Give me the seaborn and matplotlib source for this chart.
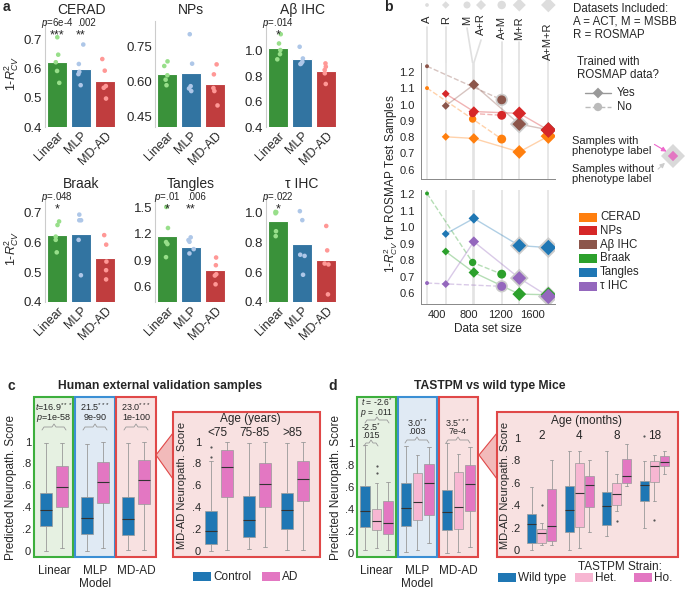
import numpy as np
import pandas as pd
import seaborn as sns
import matplotlib.pyplot as plt
from matplotlib.patches import Rectangle, Polygon

W, H = 685, 589

MODELS = ['Linear', 'MLP', 'MD-AD']
MODEL_COLORS = ['#2ca02c', '#1f77b4', '#d62728']
POINT_COLORS = ['#98df8a', '#aec7e8', '#ff9896']

# panel a: bar = mean over folds, points = single folds
CERAD_BARS = [0.624, 0.601, 0.560]
CERAD_PTS = [[0.709, 0.649, 0.623, 0.593, 0.552], [0.684, 0.617, 0.590, 0.582, 0.544], [0.634, 0.594, 0.541, 0.535, 0.498]]
NPS_BARS = [0.630, 0.636, 0.587]
NPS_PTS = [[0.686, 0.666, 0.626, 0.607, 0.583], [0.803, 0.676, 0.579, 0.569, 0.558], [0.673, 0.630, 0.571, 0.558, 0.496]]
ABETA_BARS = [1.019, 0.933, 0.841]
ABETA_PTS = [[1.131, 1.058, 1.006, 0.974, 0.933], [1.032, 0.940, 0.914, 0.901, 0.896], [0.901, 0.875, 0.849, 0.823, 0.739]]
BRAAK_BARS = [0.624, 0.630, 0.548]
BRAAK_PTS = [[0.671, 0.659, 0.620, 0.609, 0.567], [0.694, 0.675, 0.675, 0.609, 0.490], [0.625, 0.593, 0.536, 0.507, 0.476]]
TANGLES_BARS = [1.176, 1.055, 0.797]
TANGLES_PTS = [[1.505, 1.267, 1.108, 1.085, 0.937], [1.161, 1.130, 1.111, 1.028, 0.979], [0.933, 0.846, 0.744, 0.729, 0.630]]
TAU_BARS = [0.941, 0.789, 0.679]
TAU_PTS = [[1.002, 0.993, 1.000, 0.873, 0.840], [1.007, 0.947, 0.716, 0.708, 0.582], [0.908, 0.745, 0.657, 0.651, 0.451]]

# panel b
DATASETS = ['A', 'R', 'M', 'A+R', 'A+M', 'M+R', 'A+M+R']
DATASET_SIZES = [274, 510, 850, 865, 1217, 1439, 1806]
WITH_ROSMAP = [False, True, False, True, False, True, True]
B_PHENOS = ['CERAD', 'NPs', 'Aβ IHC', 'Braak', 'Tangles', 'τ IHC']
B_COLORS = ['#ff7f0e', '#d62728', '#8c564b', '#2ca02c', '#1f77b4', '#9467bd']
nan = np.nan
CERAD_B = [1.101, 0.802, 0.911, 0.792, 0.788, 0.709, 0.806]
NPS_B = [nan, 1.066, 0.945, 0.957, 0.934, 0.946, 0.843]
ABETA_B = [1.235, 0.992, nan, 1.122, 1.029, 0.880, 0.845]
BRAAK_B = [1.204, 0.852, 0.786, 0.725, 0.715, 0.594, 0.590]
TANGLES_B = [nan, 0.959, nan, 1.053, nan, 0.888, 0.876]
TAU_B = [0.661, 0.655, nan, 0.912, 0.641, 0.691, 0.580]
HALO_CERAD = []
HALO_NPS = []
HALO_ABETA = ['A+M', 'M+R']
HALO_BRAAK = []
HALO_TANGLES = ['M+R', 'A+M+R']
HALO_TAU = ['A+M', 'M+R', 'A+M+R']

# panel c: [whislo, q1, median, q3, whishi]
C_CONTROL = [[0.0, 0.226, 0.373, 0.526, 0.985], [0.0, 0.150, 0.297, 0.495, 0.979], [0.006, 0.144, 0.291, 0.495, 0.985]]
C_AD = [[0.02, 0.404, 0.587, 0.780, 0.99], [0.02, 0.44, 0.633, 0.81, 1.0], [0.006, 0.428, 0.648, 0.832, 1.0]]
C_STATS = [('$t$=16.9$^{***}$', '$p$=1e-58'), ('21.5$^{***}$', '9e-90'), ('23.0$^{***}$', '1e-100')]
C_AGES = ['<75', '75-85', '>85']
C_AGE_CONTROL = [[0.0, 0.061, 0.18, 0.367, 0.823], [0.012, 0.122, 0.281, 0.502, 0.99], [0.006, 0.202, 0.373, 0.532, 0.99]]
C_AGE_AD = [[0.006, 0.495, 0.771, 0.924, 1.0], [0.037, 0.404, 0.609, 0.801, 1.0], [0.006, 0.459, 0.654, 0.823, 1.0]]
C_AGE_CONTROL_OUT = [[0.86, 0.95], [], []]

# panel d
D_WT = [[0.024, 0.236, 0.382, 0.606, 0.979], [0.009, 0.245, 0.403, 0.636, 0.973], [0.0, 0.206, 0.367, 0.570, 0.994]]
D_HET = [[0.039, 0.206, 0.288, 0.394, 0.63], [0.024, 0.297, 0.464, 0.727, 0.885], [0.009, 0.212, 0.418, 0.736, 0.897]]
D_HO = [[0.024, 0.167, 0.273, 0.473, 0.645], [0.085, 0.342, 0.630, 0.803, 0.964], [0.048, 0.382, 0.621, 0.794, 0.964]]
D_HET_OUT = [[0.72, 0.79], [], []]
D_AGES = ['2', '4', '8', '18']
D_AGE_WT = [[0.0, 0.066, 0.233, 0.319, 0.558], [0.0, 0.164, 0.358, 0.567, 0.881], [0.125, 0.224, 0.397, 0.522, 0.881], [0.2, 0.433, 0.576, 0.612, 0.791]]
D_AGE_HET = [[0.045, 0.066, 0.149, 0.191, 0.245], [0.015, 0.209, 0.507, 0.776, 0.881], [0.352, 0.403, 0.501, 0.597, 0.681], [0.433, 0.603, 0.746, 0.797, 0.851]]
D_AGE_HO = [[0.045, 0.084, 0.215, 0.546, 0.806], [0.164, 0.382, 0.582, 0.657, 0.806], [0.567, 0.597, 0.663, 0.812, 0.95], [0.681, 0.746, 0.788, 0.836, 0.881]]
D_AGE_WT_OUT = [[], [], [], [1.02]]
D_AGE_HET_OUT = [[0.40], [], [0.263], [0.269]]

BLUE, PINK, LIGHT_PINK = '#1f77b4', '#e377c2', '#f7b6d2'

sns.set_style('white')
plt.rcParams['font.family'] = ['Liberation Sans', 'DejaVu Sans']
plt.rcParams['mathtext.fontset'] = 'custom'
plt.rcParams['mathtext.rm'] = 'Liberation Sans'
plt.rcParams['mathtext.it'] = 'Liberation Sans:italic'

fig = plt.figure(figsize=(W / 100, H / 100), dpi=100)

# full-figure overlay in pixel coordinates (drawn first, behind the data axes)
ov = fig.add_axes([0, 0, 1, 1])
ov.set_xlim(0, W)
ov.set_ylim(H, 0)
ov.axis('off')


def px_axes(x0, y0, x1, y1):
    ax = fig.add_axes([x0 / W, 1 - y1 / H, (x1 - x0) / W, (y1 - y0) / H])
    ax.patch.set_alpha(0)
    return ax


def brace(x0, x1, y, h=3):
    m = (x0 + x1) / 2
    ov.plot([x0, x0 + 2, m - 2, m, m + 2, x1 - 2, x1], [y + h, y, y, y - h, y, y, y + h],
            color='#999999', lw=0.6)


for lab, x, y in [('a', 3, 7), ('b', 384, 7), ('c', 8, 386), ('d', 328, 386)]:
    ov.text(x, y, lab, fontsize=10, fontweight='bold', va='center')

################################################################################
# a: cross-validated performance
################################################################################

a_specs = [
    ('CERAD', CERAD_BARS, CERAD_PTS, (0.4, 0.765), [0.4, 0.5, 0.6, 0.7], None, (45, 21, 117, 127),
     [('$p$=6e-4', '***'), ('.002', '**'), None]),
    ('NPs', NPS_BARS, NPS_PTS, (0.403, 0.86), [0.45, 0.60, 0.75], ['0.45', '0.60', '0.75'], (155, 21, 227, 127),
     [None, None, None]),
    ('Aβ IHC', ABETA_BARS, ABETA_PTS, (0.4, 1.235), [0.4, 0.6, 0.8, 1.0], None, (266, 21, 338, 127),
     [('$p$=.014', '*'), None, None]),
    ('Braak', BRAAK_BARS, BRAAK_PTS, (0.4, 0.76), [0.4, 0.5, 0.6, 0.7], None, (45, 195, 117, 302),
     [('$p$=.048', '*'), None, None]),
    ('Tangles', TANGLES_BARS, TANGLES_PTS, (0.43, 1.64), [0.6, 0.9, 1.2, 1.5], None, (155, 195, 227, 302),
     [('$p$=.01', '*'), ('.006', '**'), None]),
    ('τ IHC', TAU_BARS, TAU_PTS, (0.4, 1.115), [0.4, 0.6, 0.8, 1.0], None, (266, 195, 338, 302),
     [('$p$=.022', '*'), None, None]),
]

np.random.seed(3)
for k, (title, bars, pts, ylim, ticks, tlabels, box, pvals) in enumerate(a_specs):
    ax = px_axes(*box)
    sns.barplot(x=MODELS, y=bars, hue=MODELS, palette=MODEL_COLORS, width=0.86, legend=False,
                edgecolor='white', linewidth=0.8, errorbar=None, ax=ax)
    df = pd.DataFrame({'model': np.repeat(MODELS, 5), 'score': np.ravel(pts)})
    sns.stripplot(data=df, x='model', y='score', hue='model', palette=POINT_COLORS, jitter=0.12,
                  size=3.3, legend=False, ax=ax, zorder=3)
    ax.set_xlim(-0.5, 2.5)
    ax.set_ylim(*ylim)
    ax.set_yticks(ticks)
    if tlabels:
        ax.set_yticklabels(tlabels)
    ax.set_title(title, fontsize=10, pad=5)
    ax.set_xlabel('')
    if k % 3 == 0:
        ax.set_ylabel('1-$R^2_{CV}$', fontsize=9)
        ax.yaxis.set_label_coords(-0.33, 0.5)
    else:
        ax.set_ylabel('')
    ax.tick_params(length=0, labelsize=9.5, pad=2)
    plt.setp(ax.get_xticklabels(), rotation=45, ha='right', rotation_mode='anchor', fontsize=9)
    sns.despine(ax=ax, bottom=True)
    ax.spines['left'].set_color('#cccccc')
    for i, pv in enumerate(pvals):
        if pv:
            dx = 0.22 if i == 1 else 0.0
            ax.text(i + dx, 0.985, pv[0], transform=ax.get_xaxis_transform(), ha='center', va='center', fontsize=7)
            ax.text(i, 0.865, pv[1], transform=ax.get_xaxis_transform(), ha='center', va='center', fontsize=9)

################################################################################
# b: performance vs data set size
################################################################################

XLIM = (198, 1890)
sizes = np.array(DATASET_SIZES, dtype=float)
rosmap = np.array(WITH_ROSMAP)


def marker_area(s):
    return 8 + (s - 274) / 1532 * 54


strip = px_axes(421, 0, 555, 63)
strip.set_xlim(*XLIM)
strip.set_ylim(63, 0)
strip.axis('off')
label_x = [274, 510, 779, 956, 1217, 1439, 1806]
label_top = [16, 16, 16, 13, 16, 16, 22]
line_start = [27, 27, 28, 40, 42, 42, 56]
for name, s, lx, lt, ls, ros in zip(DATASETS, DATASET_SIZES, label_x, label_top, line_start, WITH_ROSMAP):
    strip.text(lx, lt, name, rotation=90, ha='center', va='top', fontsize=8)
    strip.plot([lx, s], [ls, 63], color='#e0e0e0', lw=1.2, zorder=0)
    strip.scatter([lx], [5], s=marker_area(s) * 0.9, marker='D' if ros else 'o', color='#dddddd',
                  edgecolor='none', clip_on=False)

b_top = px_axes(421, 63, 555, 179)
b_bot = px_axes(421, 190, 555, 304)
b_series = [CERAD_B, NPS_B, ABETA_B, BRAAK_B, TANGLES_B, TAU_B]
b_halos = [HALO_CERAD, HALO_NPS, HALO_ABETA, HALO_BRAAK, HALO_TANGLES, HALO_TAU]
for ax, order, ylim in [(b_top, [0, 2, 1], (0.543, 1.255)), (b_bot, [3, 4, 5], (0.534, 1.225))]:
    for s in DATASET_SIZES:
        ax.axvline(s, color='#e3e3e3', lw=1.2, zorder=0)
    for j in order:
        vals = np.array(b_series[j], dtype=float)
        col = B_COLORS[j]
        for flag, lstyle, mk in [(True, '-', 'D'), (False, '--', 'o')]:
            idx = np.where((rosmap == flag) & ~np.isnan(vals))[0]
            if len(idx) == 0:
                continue
            ax.plot(sizes[idx], vals[idx], ls=lstyle, color=col, alpha=0.35, lw=1, zorder=1)
            halo = [i for i in idx if DATASETS[i] in b_halos[j]]
            if halo:
                ax.scatter(sizes[halo], vals[halo], s=marker_area(sizes[halo]) * 1.7 + 8, marker=mk,
                           color='#cccccc', edgecolor='none', zorder=2)
            sns.scatterplot(x=sizes[idx], y=vals[idx], size=sizes[idx], sizes=(8, 62), size_norm=(274, 1806),
                            marker=mk, color=col, edgecolor='none', legend=False, ax=ax, zorder=3)
    ax.set_xlim(*XLIM)
    ax.set_ylim(*ylim)
    ax.set_yticks([0.6, 0.7, 0.8, 0.9, 1.0, 1.1, 1.2])
    ax.set_xticks([400, 800, 1200, 1600])
    ax.tick_params(labelsize=8, length=2.5, width=0.6, color='#888888', pad=2)
    sns.despine(ax=ax)
    for sp in ['left', 'bottom']:
        ax.spines[sp].set_color('#888888')
        ax.spines[sp].set_linewidth(0.7)
b_top.set_xticklabels([])
b_bot.set_xlabel('Data set size', fontsize=8.5, labelpad=2)
ov.text(391, 184, '1-$R^2_{CV}$ for ROSMAP Test Samples', rotation=90, ha='center', va='center', fontsize=8.5)

# b legends
ov.text(573, 3, 'Datasets Included:\nA = ACT, M = MSBB\nR = ROSMAP', va='top', fontsize=8.3, linespacing=1.1)
ov.text(577, 56, 'Trained with\nROSMAP data?', va='top', fontsize=8.3, linespacing=1.1)
ov.plot([585, 611], [93, 93], color='#999999', lw=1)
ov.scatter([598], [93], marker='D', s=30, color='#999999', edgecolor='none')
ov.text(617, 93, 'Yes', va='center', fontsize=8.3)
ov.plot([585, 611], [107, 107], color='#bbbbbb', lw=1, ls='--')
ov.scatter([598], [107], marker='o', s=36, color='#bbbbbb', edgecolor='none')
ov.text(617, 107, 'No', va='center', fontsize=8.3)
ov.text(572, 146, 'Samples with\nphenotype label', va='center', fontsize=8, linespacing=1.0)
ov.text(572, 174, 'Samples without\nphenotype label', va='center', fontsize=8, linespacing=1.0)
ov.scatter([673], [156], marker='D', s=150, color='#d9d9d9', edgecolor='none', clip_on=False)
ov.scatter([673], [156], marker='D', s=28, color=PINK, edgecolor='none')
ov.annotate('', xy=(669, 153), xytext=(652, 143),
            arrowprops=dict(arrowstyle='-|>', color='#ee66cc', lw=0.8, mutation_scale=7))
ov.annotate('', xy=(667, 161), xytext=(656, 171),
            arrowprops=dict(arrowstyle='-|>', color='#cccccc', lw=0.8, mutation_scale=7))
for j, (name, col) in enumerate(zip(B_PHENOS, B_COLORS)):
    y = 217 + j * 13.8
    ov.add_patch(Rectangle((579, y - 4.5), 18, 9, color=col, lw=0))
    ov.text(600, y, name, va='center', fontsize=8.3)

################################################################################
# c / d: box plots
################################################################################


def draw_boxes(ax, rows, positions, width, color, outs=None):
    stats = []
    for i, r in enumerate(rows):
        stats.append(dict(whislo=r[0], q1=r[1], med=r[2], q3=r[3], whishi=r[4],
                          fliers=np.array(outs[i] if outs else [])))
    art = ax.bxp(stats, positions=positions, widths=width, patch_artist=True, capwidths=width * 0.35,
                 boxprops=dict(edgecolor='#999999', linewidth=0.5),
                 medianprops=dict(color='#333333', linewidth=0.8),
                 whiskerprops=dict(color='#999999', linewidth=0.6),
                 capprops=dict(color='#999999', linewidth=0.6),
                 flierprops=dict(marker='o', markersize=1.6, markerfacecolor='#555555', markeredgecolor='none'))
    for b in art['boxes']:
        b.set_facecolor(color)


def style_box_axes(ax, fs=8):
    ax.set_yticks([0, 0.2, 0.4, 0.6, 0.8, 1.0])
    ax.set_yticklabels(['0', '.2', '.4', '.6', '.8', '1'])
    ax.set_xticks([])
    ax.tick_params(length=0, labelsize=fs, pad=2)
    for sp in ax.spines.values():
        sp.set_visible(False)


def inset_frame(x0, y0, x1, y1, tip_x, tip_y):
    ov.add_patch(Polygon([(tip_x, tip_y), (x0, tip_y - 22), (x0, tip_y + 24)], closed=True,
                         facecolor='#f2baba', edgecolor='#e04848', lw=0.8))
    ov.add_patch(Rectangle((x0, y0), x1 - x0, y1 - y0, facecolor='#f8e1e1', edgecolor='#e04848', lw=1.5))


bg_faces = ['#e6f1e2', '#e0eaf4', '#f8e1e1']
bg_edges = ['#3daf3d', '#3b8fd4', '#e04848']
STAT_FS = 6.5

# c main
ov.text(160, 386, 'Human external validation samples', ha='center', va='center', fontsize=8.7, fontweight='bold')
for i, (x0, x1) in enumerate([(34, 73), (75, 115), (116, 156)]):
    ov.add_patch(Rectangle((x0, 397), x1 - x0, 160, facecolor=bg_faces[i], edgecolor=bg_edges[i], lw=1.5))
c_ax = px_axes(34, 397, 156, 557)
pos = np.arange(3)
draw_boxes(c_ax, C_CONTROL, pos - 0.2, 0.3, BLUE)
draw_boxes(c_ax, C_AD, pos + 0.2, 0.3, PINK)
c_ax.set_xlim(-0.49, 2.49)
c_ax.set_ylim(-0.058, 1.41)
style_box_axes(c_ax)
for i, (t1, t2) in enumerate(C_STATS):
    cx = 54 + 41 * i
    ov.text(cx, 407, t1, ha='center', va='center', fontsize=STAT_FS)
    ov.text(cx, 418, t2, ha='center', va='center', fontsize=STAT_FS)
    brace(cx - 12, cx + 12, 427)
    ov.text(cx, 571, MODELS[i], ha='center', va='center', fontsize=8.5)
ov.text(95, 584, 'Model', ha='center', va='center', fontsize=8.5)
ov.text(11, 487, 'Predicted Neuropath. Score', rotation=90, ha='center', va='center', fontsize=8.5)

# c inset
inset_frame(173, 412, 320, 557, 156, 455)
ci = px_axes(204, 412, 318, 557)
pos = np.arange(3)
draw_boxes(ci, C_AGE_CONTROL, pos - 0.21, 0.32, BLUE, C_AGE_CONTROL_OUT)
draw_boxes(ci, C_AGE_AD, pos + 0.21, 0.32, PINK)
ci.set_xlim(-0.4, 2.6)
ci.set_ylim(-0.058, 1.272)
style_box_axes(ci)
ov.text(250, 419, 'Age (years)', ha='center', va='center', fontsize=8.5)
for i, lab in enumerate(C_AGES):
    ov.text(217 + 37.8 * i, 433, lab, ha='center', va='center', fontsize=8.5)
ov.text(182, 485, 'MD-AD Neuropath. Score', rotation=90, ha='center', va='center', fontsize=8)
for x, col, lab in [(193, BLUE, 'Control'), (262, PINK, 'AD')]:
    ov.add_patch(Rectangle((x, 572), 18, 9, color=col, lw=0))
    ov.text(x + 20, 577, lab, va='center', fontsize=8.5)

# d main
ov.text(490, 386, 'TASTPM vs wild type Mice', ha='center', va='center', fontsize=8.7, fontweight='bold')
for i, (x0, x1) in enumerate([(357, 396), (398, 437), (439, 478)]):
    ov.add_patch(Rectangle((x0, 397), x1 - x0, 160, facecolor=bg_faces[i], edgecolor=bg_edges[i], lw=1.5))
d_ax = px_axes(357, 397, 478, 557)
pos = np.arange(3)
draw_boxes(d_ax, D_WT, pos - 0.285, 0.24, BLUE)
draw_boxes(d_ax, D_HET, pos, 0.24, LIGHT_PINK, D_HET_OUT)
draw_boxes(d_ax, D_HO, pos + 0.285, 0.24, PINK)
d_ax.set_xlim(-0.476, 2.476)
d_ax.set_ylim(-0.039, 1.415)
style_box_axes(d_ax)
ov.text(377, 402, '$t$ = -2.6$^{*}$', ha='center', va='center', fontsize=6.2)
ov.text(377, 413, '$p$ = .011', ha='center', va='center', fontsize=6.2)
brace(365, 389, 420)
ov.text(371, 427, '-2.5$^{*}$', ha='center', va='center', fontsize=STAT_FS)
ov.text(371, 436, '.015', ha='center', va='center', fontsize=STAT_FS)
brace(364, 378, 443)
for cx, t1, t2 in [(417, '3.0$^{**}$', '.003'), (458, '3.5$^{***}$', '7e-4')]:
    ov.text(cx, 423, t1, ha='center', va='center', fontsize=STAT_FS)
    ov.text(cx, 432, t2, ha='center', va='center', fontsize=STAT_FS)
    brace(cx - 12, cx + 12, 440)
for i, lab in enumerate(MODELS):
    ov.text(376.5 + 41 * i, 571, lab, ha='center', va='center', fontsize=8.5)
ov.text(417.5, 584, 'Model', ha='center', va='center', fontsize=8.5)
ov.text(336, 487, 'Predicted Neuropath. Score', rotation=90, ha='center', va='center', fontsize=8.5)

# d inset
inset_frame(497, 412, 678, 557, 479, 455)
di = px_axes(523, 412, 676, 557)
pos = np.arange(4)
draw_boxes(di, D_AGE_WT, pos - 0.267, 0.24, BLUE, D_AGE_WT_OUT)
draw_boxes(di, D_AGE_HET, pos, 0.24, LIGHT_PINK, D_AGE_HET_OUT)
draw_boxes(di, D_AGE_HO, pos + 0.267, 0.24, PINK)
di.set_xlim(-0.5, 3.58)
di.set_ylim(-0.0625, 1.232)
style_box_axes(di)
ov.text(587, 421, 'Age (months)', ha='center', va='center', fontsize=8.5)
for i, lab in enumerate(D_AGES):
    ov.text(541.7 + 37.5 * i, 436, lab, ha='center', va='center', fontsize=8.5)
ov.text(505, 485, 'MD-AD Neuropath. Score', rotation=90, ha='center', va='center', fontsize=8)
ov.text(620, 567, 'TASTPM Strain:', ha='center', va='center', fontsize=8.5)
for x, col, lab in [(498, BLUE, 'Wild type'), (575, LIGHT_PINK, 'Het.'), (634, PINK, 'Ho.')]:
    ov.add_patch(Rectangle((x, 573), 18, 9, color=col, lw=0))
    ov.text(x + 20, 578, lab, va='center', fontsize=8.5)

fig.savefig('out.png', dpi=100)
